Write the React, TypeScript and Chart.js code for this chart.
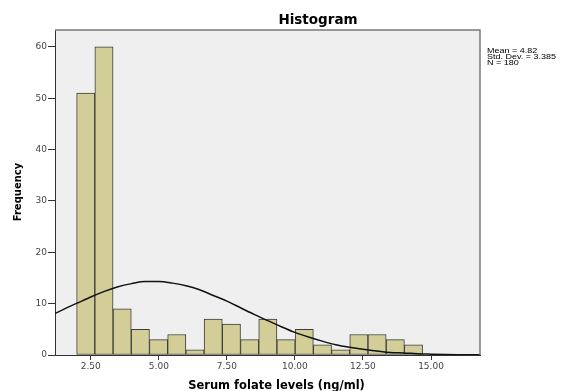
import { useEffect, useRef } from 'react';
import { Chart, registerables } from 'chart.js';

Chart.register(...registerables);

// ---- data ----
const counts = [51, 60, 9, 5, 3, 4, 1, 7, 6, 3, 7, 3, 5, 2, 1, 4, 4, 3, 2];
const binStart = 1.98;
const binWidth = 0.669;
const curveX = [1, 1.5, 2, 2.5, 3, 3.5, 4, 4.5, 5, 5.5, 6, 6.5, 7, 7.5, 8, 8.5, 9, 9.5, 10, 10.5, 11, 11.5, 12, 12.5, 13, 13.5, 14, 14.5, 15, 15.5, 16, 16.5, 17];
const curveY = [7.6, 8.9, 10.1, 11.3, 12.4, 13.3, 13.9, 14.3, 14.3, 14.0, 13.5, 12.7, 11.6, 10.5, 9.2, 7.9, 6.7, 5.5, 4.4, 3.5, 2.7, 2.0, 1.5, 1.1, 0.8, 0.5, 0.4, 0.24, 0.16, 0.1, 0.06, 0.04, 0.02];
const xTicks = [2.5, 5, 7.5, 10, 12.5, 15];
const yTicks = [0, 10, 20, 30, 40, 50, 60];
const xMin = 1.185;
const xMax = 16.8;
const yMax = 63.3;
const titleText = 'Histogram';
const xTitle = 'Serum folate levels (ng/ml)';
const yTitle = 'Frequency';
const statsLines = ['Mean = 4.82', 'Std. Dev. = 3.385', 'N = 180'];

const decor = {
  id: 'decor',
  beforeDraw(chart: any) {
    const { ctx, chartArea: a } = chart;
    ctx.save();
    ctx.fillStyle = '#efefef';
    ctx.fillRect(a.left, a.top, a.right - a.left, a.bottom - a.top);
    ctx.restore();
  },
  afterDraw(chart: any) {
    const { ctx, chartArea: a } = chart;
    ctx.save();
    ctx.strokeStyle = '#7a7a7a';
    ctx.lineWidth = 1.5;
    ctx.beginPath();
    ctx.moveTo(a.left, a.top);
    ctx.lineTo(a.right, a.top);
    ctx.lineTo(a.right, a.bottom);
    ctx.stroke();

    ctx.fillStyle = '#000';
    ctx.textAlign = 'center';
    ctx.textBaseline = 'alphabetic';
    ctx.font = 'bold 13.5px "DejaVu Sans"';
    ctx.fillText(titleText, 318, 24);
    ctx.font = 'bold 11.5px "DejaVu Sans"';
    ctx.fillText(xTitle, 276.5, 388.5);

    ctx.save();
    ctx.translate(20.5, 192);
    ctx.rotate(-Math.PI / 2);
    ctx.font = 'bold 10px "DejaVu Sans"';
    ctx.fillText(yTitle, 0, 0);
    ctx.restore();

    ctx.textAlign = 'left';
    ctx.font = '9px "Liberation Sans"';
    statsLines.forEach((s, i) => {
      ctx.save();
      ctx.translate(487, 53 + i * 6.2);
      ctx.scale(1, 0.85);
      ctx.fillText(s, 0, 0);
      ctx.restore();
    });
    ctx.restore();
  },
};

export default function App() {
  const ref = useRef<HTMLCanvasElement>(null);
  useEffect(() => {
    const bars = counts.map((c, i) => ({ x: binStart + binWidth * (i + 0.5), y: c }));
    const curve = curveX.map((x, i) => ({ x, y: curveY[i] }));
    const tickFont = { family: '"DejaVu Sans"', size: 9 };
    const chart = new Chart(ref.current as HTMLCanvasElement, {
      type: 'bar',
      data: {
        datasets: [
          {
            type: 'line',
            data: curve,
            borderColor: '#111',
            borderWidth: 1.5,
            pointRadius: 0,
            cubicInterpolationMode: 'monotone',
            order: 0,
          } as any,
          {
            type: 'bar',
            data: bars,
            backgroundColor: '#d3ce98',
            borderColor: '#3c3c3c',
            borderWidth: 1,
            borderSkipped: false,
            barPercentage: 1,
            categoryPercentage: 1,
            order: 1,
          } as any,
        ],
      },
      options: {
        responsive: false,
        animation: false,
        layout: { padding: { top: 30, right: 93, left: 0, bottom: 0 } },
        plugins: { legend: { display: false }, tooltip: { enabled: false } },
        scales: {
          x: {
            type: 'linear',
            min: xMin,
            max: xMax,
            offset: false,
            afterBuildTicks: (s: any) => { s.ticks = xTicks.map((v) => ({ value: v })); },
            afterFit: (s: any) => { s.height = 36; },
            ticks: {
              font: tickFont,
              color: '#444',
              padding: 1,
              maxRotation: 0,
              autoSkip: false,
              callback: (v: any) => Number(v).toFixed(2),
            },
            grid: { drawOnChartArea: false, drawTicks: true, tickLength: 5, color: '#333', offset: false },
            border: { display: true, color: '#333', width: 1 },
          },
          y: {
            type: 'linear',
            min: 0,
            max: yMax,
            afterBuildTicks: (s: any) => { s.ticks = yTicks.map((v) => ({ value: v })); },
            afterFit: (s: any) => { s.width = 55; },
            ticks: { font: tickFont, color: '#444', padding: 1, autoSkip: false },
            grid: { drawOnChartArea: false, drawTicks: true, tickLength: 7, color: '#333' },
            border: { display: true, color: '#333', width: 1 },
          },
        },
      },
      plugins: [decor],
    });
    return () => chart.destroy();
  }, []);
  return (
    <div style={{ position: 'fixed', left: 0, top: 0, width: 573, height: 391, background: '#fff' }}>
      <canvas ref={ref} width={573} height={391} style={{ display: 'block' }} />
    </div>
  );
}
